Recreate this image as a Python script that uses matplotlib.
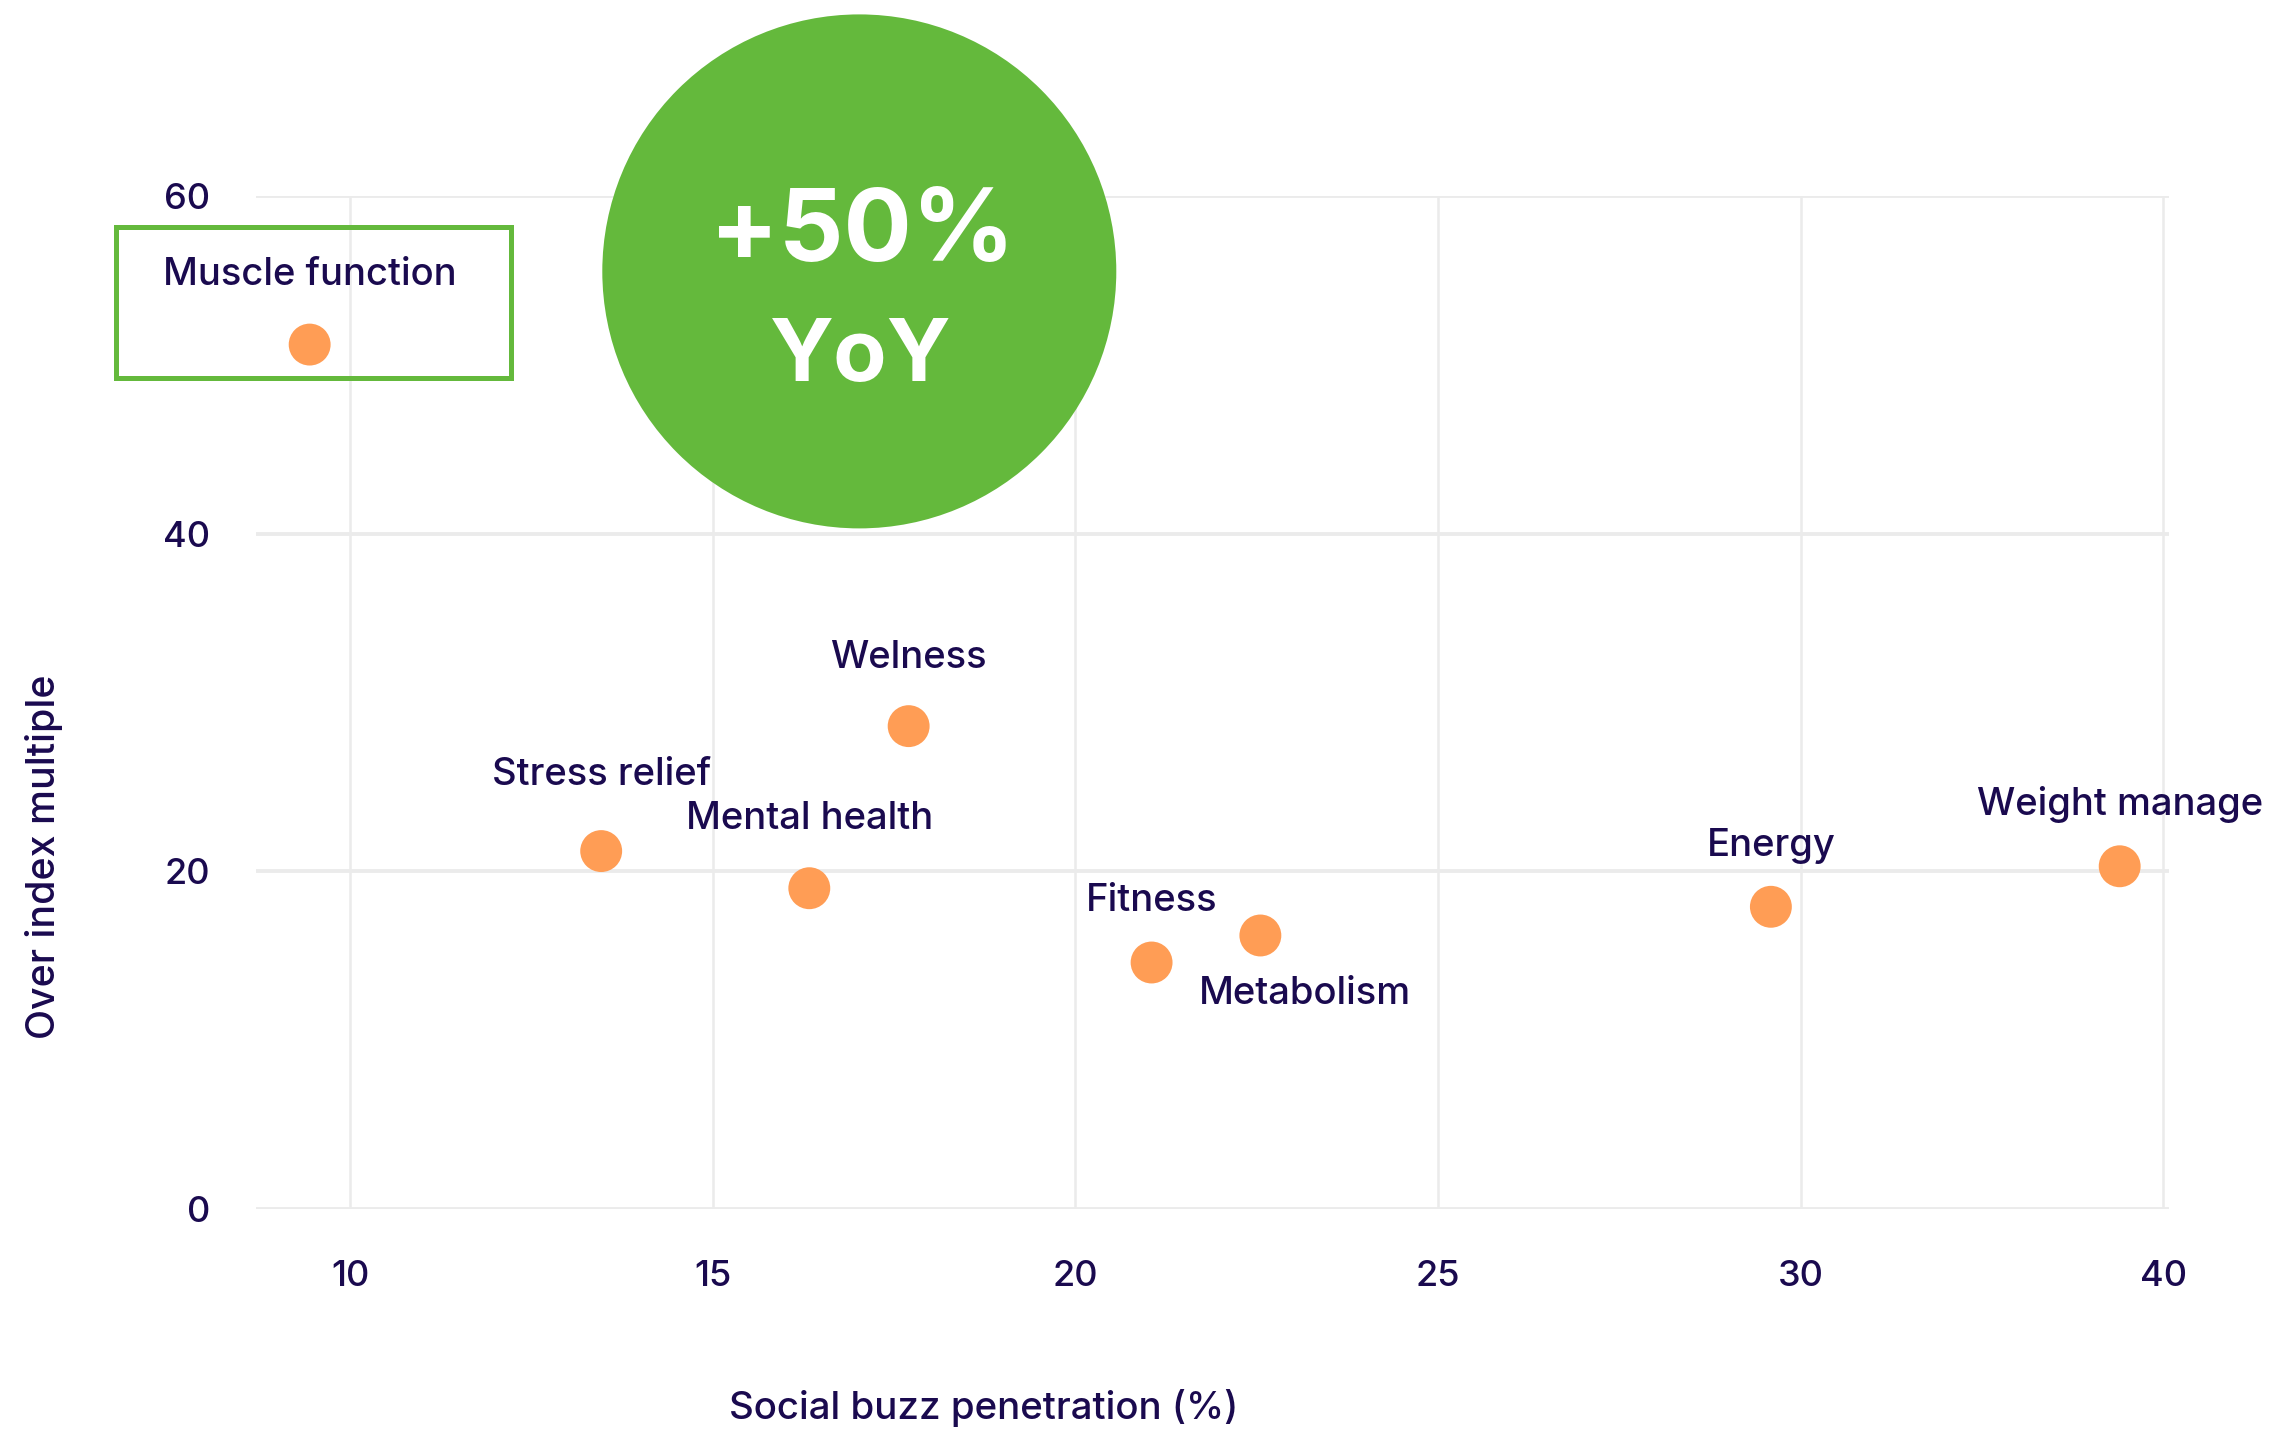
import numpy as np
import matplotlib
matplotlib.use("Agg")
import matplotlib.pyplot as plt
from matplotlib.patches import Rectangle, Ellipse

# ---- data ----
labels = ["Muscle function", "Welness", "Stress relief", "Mental health",
          "Fitness", "Metabolism", "Energy", "Weight manage"]
penetration = [9.44, 17.70, 13.46, 16.33, 21.05, 22.55, 29.59, 38.8]
over_index = [51.2, 28.6, 21.2, 19.0, 14.6, 16.2, 17.9, 20.3]
x_ticks = [10, 15, 20, 25, 30, 40]
y_ticks = [0, 20, 40, 60]

TEXT = "#1a0a4f"
ORANGE = "#FF9D55"
GREEN = "#64B93C"
GRID = "#ebebeb"

plt.rcParams['font.family'] = ['Inter', 'DejaVu Sans']

fig = plt.figure(figsize=(22.76, 14.32), dpi=100)
ax = fig.add_axes([256 / 2276, 1 - 1209 / 1432, 1913 / 2276, 1013 / 1432])


def fwd(x):
    x = np.asarray(x, dtype=float)
    return np.where(x <= 30, x, 30 + (x - 30) / 2)


def inv(y):
    y = np.asarray(y, dtype=float)
    return np.where(y <= 30, y, 30 + (y - 30) * 2)


ax.set_xscale('function', functions=(fwd, inv))
ax.set_xlim(8.70, 40.16)
ax.set_ylim(0, 60)
ax.set_xticks(x_ticks)
ax.set_xticklabels([str(t) for t in x_ticks])
ax.set_yticks(y_ticks)
ax.set_yticklabels([str(t) for t in y_ticks])
ax.minorticks_off()

for s in ax.spines.values():
    s.set_visible(False)
ax.tick_params(length=0, labelsize=26, labelcolor=TEXT)
for t in ax.get_xticklabels() + ax.get_yticklabels():
    t.set_fontweight('medium')
ax.tick_params(axis='x', pad=37)
ax.tick_params(axis='y', pad=33)
ax.grid(axis='y', color=GRID, lw=2.8, zorder=0)
ax.grid(axis='x', color=GRID, lw=1.8, zorder=0)
ax.set_axisbelow(True)

ax.scatter(penetration, over_index, s=910, color=ORANGE, edgecolors='none', zorder=3)

offsets = {
    "Muscle function": (0, 70),
    "Welness": (0, 68),
    "Stress relief": (0, 76),
    "Mental health": (0, 69),
    "Fitness": (0, 62),
    "Metabolism": (45, -59),
    "Energy": (0, 61),
    "Weight manage": (0, 62),
}
for lab, x, y in zip(labels, penetration, over_index):
    dx, dy = offsets.get(lab, (0, 66))
    ax.annotate(lab, (x, y), xytext=(dx, dy), textcoords='offset pixels',
                ha='center', va='center', fontsize=27.5, fontweight='medium',
                color=TEXT, zorder=4, annotation_clip=False)

ax.set_xlabel("Social buzz penetration (%)", fontsize=27.7, color=TEXT, fontweight='medium')
ax.xaxis.set_label_coords(0.3806, -0.196)
ax.set_ylabel("Over index multiple", fontsize=28.3, color=TEXT, fontweight='medium')
ax.yaxis.set_label_coords(-0.111, 0.348)
ax.xaxis.label.set_va('center')
ax.yaxis.label.set_va('center')

# highlight box
fig.patches.append(Rectangle((116 / 2276, 1 - 377.7 / 1432), 395 / 2276, 150.7 / 1432,
                             transform=fig.transFigure, fill=False, edgecolor=GREEN,
                             lw=3.6, zorder=5))
# badge circle
fig.patches.append(Ellipse((859.3 / 2276, 1 - 271.4 / 1432), 514 / 2276, 514 / 1432,
                           transform=fig.transFigure, facecolor=GREEN, edgecolor='none',
                           zorder=5))
fig.text(862 / 2276, 1 - 261 / 1432, "+50%", ha='center', va='baseline', fontsize=73,
         fontweight='bold', color='white', zorder=6)
fig.text(861 / 2276, 1 - 381 / 1432, "YoY", ha='center', va='baseline', fontsize=63,
         fontweight='bold', color='white', zorder=6)

fig.savefig("out.png", dpi=100, facecolor='white')
